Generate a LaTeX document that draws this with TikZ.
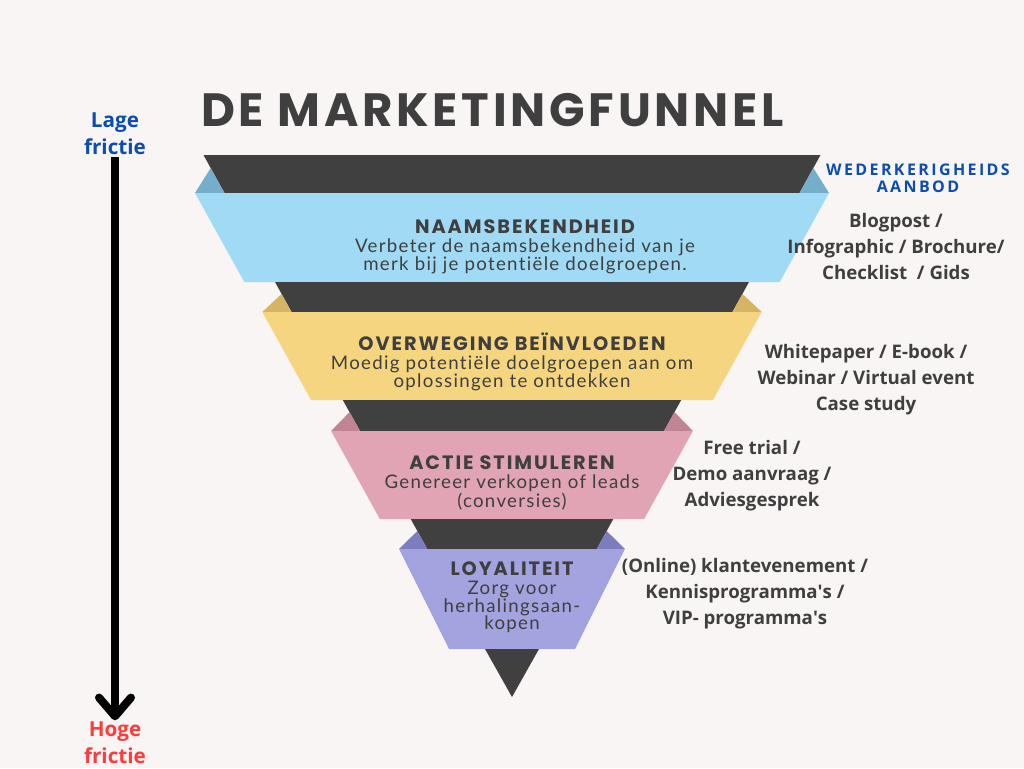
\documentclass[tikz,border=0pt]{standalone}
\usepackage{fontspec}
\setmainfont{Open Sans}
\newfontfamily\titlefont[LetterSpace=8]{Poppins}
\newfontfamily\headfont[LetterSpace=10]{Poppins}
\newfontfamily\descfont[LetterSpace=7, Ligatures=NoCommon]{Lato}
\newfontfamily\tagfont[LetterSpace=15]{Open Sans}
\usepackage{tikz}
\usetikzlibrary{positioning,arrows.meta}

\definecolor{bgcol}{HTML}{F8F5F4}
\definecolor{darkband}{HTML}{404040}
\definecolor{txtgray}{HTML}{3F3F3F}
\definecolor{lageblue}{HTML}{0B4DB3}
\definecolor{hogered}{HTML}{FF3B3B}
\definecolor{bluefront}{HTML}{A0DAF5}
\definecolor{bluefold}{HTML}{74AECB}
\definecolor{yelfront}{HTML}{F5D57F}
\definecolor{yelfold}{HTML}{D5B563}
\definecolor{pinkfront}{HTML}{E0A4B4}
\definecolor{pinkfold}{HTML}{C08494}
\definecolor{purpfront}{HTML}{A3A3E0}
\definecolor{purpfold}{HTML}{7C7CBE}

\begin{document}
\begin{tikzpicture}[x=0.75pt, y=-0.75pt,
    head/.style={inner sep=0pt, text=txtgray, font=\headfont\bfseries\fontsize{14.5}{16}\selectfont},
    desc/.style={inner sep=0pt, align=center, text=txtgray, font=\descfont\fontsize{14}{13.2}\selectfont},
    offer/.style={align=center, text=txtgray, font=\bfseries\fontsize{14}{19.5}\selectfont},
    friction/.style={align=center, inner sep=1pt, font=\bfseries\fontsize{15.5}{20.5}\selectfont}]
    \fill[bgcol] (0,0) rectangle (1024,768);
    \useasboundingbox (0,0) rectangle (1024,768);

    % title
    \node[anchor=west, inner sep=0pt, text=txtgray, font=\titlefont\bfseries\fontsize{35}{40}\selectfont] (title) at (201,110) {DE MARKETINGFUNNEL};

    % band 1
    \fill[darkband] (203.5,155) -- (820.5,155) -- (799.5,193) -- (224.5,193) -- cycle;
    \fill[bluefold] (195,193) -- (224.5,193) -- (210.7,168) -- cycle;
    \fill[bluefold] (829,193) -- (799.5,193) -- (813.3,168) -- cycle;
    \fill[bluefront] (195,193) -- (829,193) -- (779.7,282) -- (244.3,282) -- cycle;
    % band 2
    \fill[darkband] (275,282) -- (749,282) -- (732.4,312) -- (291.6,312) -- cycle;
    \fill[yelfold] (262.3,312) -- (291.6,312) -- (281.6,294) -- cycle;
    \fill[yelfold] (761.7,312) -- (732.4,312) -- (742.4,294) -- cycle;
    \fill[yelfront] (262.3,312) -- (761.7,312) -- (712.9,400) -- (311.1,400) -- cycle;
    % band 3
    \fill[darkband] (342.8,400) -- (681.2,400) -- (664,431) -- (360,431) -- cycle;
    \fill[pinkfold] (331.1,431) -- (360,431) -- (349.6,412) -- cycle;
    \fill[pinkfold] (692.9,431) -- (664,431) -- (674.4,412) -- cycle;
    \fill[pinkfront] (331.1,431) -- (692.9,431) -- (644.1,519) -- (379.9,519) -- cycle;
    % band 4
    \fill[darkband] (410.7,519) -- (613.3,519) -- (596.7,549) -- (427.3,549) -- cycle;
    \fill[purpfold] (399.1,549) -- (427.3,549) -- (417.3,531) -- cycle;
    \fill[purpfold] (624.9,549) -- (596.7,549) -- (606.7,531) -- cycle;
    \fill[purpfront] (399.1,549) -- (624.9,549) -- (575,649) -- (449,649) -- cycle;
    \fill[darkband] (485,649) -- (539,649) -- (512,697) -- cycle;

    % band texts
    \node[head] (h1) at (525,227) {NAAMSBEKENDHEID};
    \node[desc, below=3.5pt of h1] (d1) {Verbeter de naamsbekendheid van je\\merk bij je potentiële doelgroepen.};
    \node[head] (h2) at (512,342) {OVERWEGING BEÏNVLOEDEN};
    \node[desc, below=3.5pt of h2] (d2) {Moedig potentiële doelgroepen aan om\\oplossingen te ontdekken};
    \node[head] (h3) at (512,463) {ACTIE STIMULEREN};
    \node[desc, below=3.5pt of h3] (d3) {Genereer verkopen of leads\\(conversies)};
    \node[head] (h4) at (512,569) {LOYALITEIT};
    \node[desc, below=3.5pt of h4] (d4) {Zorg voor\\herhalingsaan-\\kopen};

    % offers
    \node[align=center, text=lageblue, font=\tagfont\bfseries\fontsize{12}{12.5}\selectfont] (tag) at (918,178) {WEDERKERIGHEIDS\\AANBOD};
    \node[offer] (o1) at (896,246) {Blogpost /\\Infographic / Brochure/\\Checklist\ \ / Gids};
    \node[offer] (o2) at (866,380) {Whitepaper / E-book /\\Webinar / Virtual event\\Case study};
    \node[offer] (o3) at (752,476) {Free trial /\\Demo aanvraag /\\Adviesgesprek};
    \node[offer] (o4) at (745,594) {(Online) klantevenement /\\Kennisprogramma\textquotesingle s /\\VIP- programma\textquotesingle s};

    % friction axis
    \node[friction, text=lageblue] (lage) at (115,134) {Lage\\frictie};
    \node[friction, text=hogered] (hoge) at (115,743) {Hoge\\frictie};
    \draw[line width=6pt, -{Straight Barb[round, length=14pt, width=24pt]}] (lage) -- (hoge);
\end{tikzpicture}
\end{document}
